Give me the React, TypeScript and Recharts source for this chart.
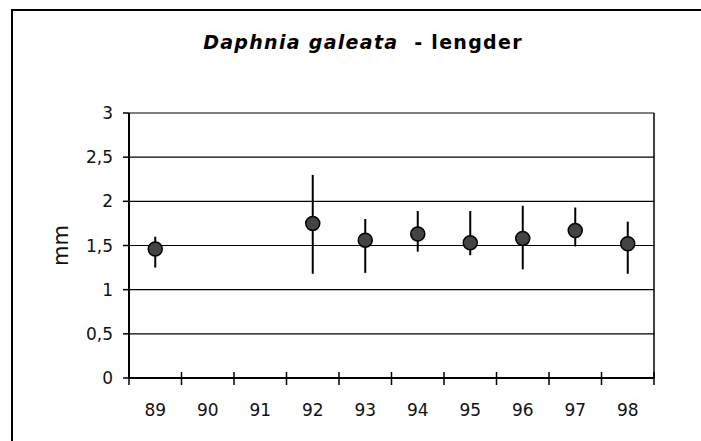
import { ScatterChart, Scatter, XAxis, YAxis, CartesianGrid, ErrorBar, ReferenceLine } from "recharts";

// Daphnia galeata - lengder (mean length in mm, with min/max range)
const years = [89, 92, 93, 94, 95, 96, 97, 98];
const means = [1.46, 1.75, 1.56, 1.63, 1.53, 1.58, 1.67, 1.52];
const lows = [1.25, 1.18, 1.19, 1.43, 1.39, 1.23, 1.49, 1.18];
const highs = [1.6, 2.3, 1.8, 1.89, 1.89, 1.95, 1.93, 1.77];

const yearTicks = [89, 90, 91, 92, 93, 94, 95, 96, 97, 98];
const boundaryTicks = [88.5, 89.5, 90.5, 91.5, 92.5, 93.5, 94.5, 95.5, 96.5, 97.5, 98.5];
const yTicks = [0, 0.5, 1, 1.5, 2, 2.5, 3];

const FONT = "'DejaVu Sans', sans-serif";

const data = years.map((y, i) => ({
  year: y,
  mm: means[i],
  range: [means[i] - lows[i], highs[i] - means[i]],
}));

function XTick(props: any) {
  const { x, y, payload } = props;
  if (Number.isInteger(payload.value)) {
    return (
      <text x={x} y={y + 38} textAnchor="middle" fontSize={17} fontFamily={FONT} fill="#111">
        {payload.value}
      </text>
    );
  }
  return <line x1={x} x2={x} y1={y - 6} y2={y + 7} stroke="#000" strokeWidth={1.5} />;
}

function Dot(props: any) {
  return <circle cx={props.cx} cy={props.cy} r={7} fill="#444" stroke="#000" strokeWidth={1.5} />;
}

export default function App() {
  return (
    <div style={{ position: "absolute", left: 0, top: 0, width: 701, height: 441, background: "#fff" }}>
      <div
        style={{
          position: "absolute",
          left: 11,
          top: 9,
          width: 690,
          height: 432,
          borderLeft: "2px solid #000",
          borderTop: "2px solid #000",
        }}
      />
      <div
        style={{
          position: "absolute",
          left: 0,
          top: 31,
          width: 726,
          textAlign: "center",
          fontFamily: FONT,
          fontWeight: "bold",
          fontSize: 19,
          letterSpacing: 1.3,
          lineHeight: "22px",
          whiteSpace: "pre",
          color: "#000",
        }}
      >
        <i>Daphnia galeata</i>{"  - lengder"}
      </div>
      <div style={{ position: "absolute", left: 0, top: 0 }}>
        <ScatterChart width={701} height={441} margin={{ top: 113, right: 47, bottom: 0, left: 0 }}>
          <CartesianGrid vertical={false} stroke="#000" strokeWidth={1.2} />
          <XAxis
            type="number"
            dataKey="year"
            domain={[88.5, 98.5]}
            ticks={[...yearTicks, ...boundaryTicks]}
            interval={0}
            tick={<XTick />}
            tickLine={false}
            tickSize={0}
            tickMargin={0}
            height={63}
            axisLine={{ stroke: "#000", strokeWidth: 2 }}
          />
          <YAxis
            type="number"
            dataKey="mm"
            domain={[0, 3]}
            ticks={yTicks}
            interval={0}
            width={129}
            tickSize={6}
            tickMargin={10}
            tickFormatter={(v: number) => String(v).replace(".", ",")}
            tick={{ fontSize: 17, fontFamily: FONT, fill: "#111" }}
            tickLine={{ stroke: "#000", strokeWidth: 1.5 }}
            axisLine={{ stroke: "#000", strokeWidth: 2 }}
            label={{ value: "mm", angle: -90, position: "center", dx: -4, fontSize: 21, fontFamily: FONT, fill: "#111" }}
          />
          <ReferenceLine x={98.5} stroke="#000" strokeWidth={1.5} />
          <Scatter data={data} shape={<Dot />} isAnimationActive={false}>
            <ErrorBar dataKey="range" direction="y" width={0} stroke="#000" strokeWidth={2} isAnimationActive={false} />
          </Scatter>
        </ScatterChart>
      </div>
    </div>
  );
}
